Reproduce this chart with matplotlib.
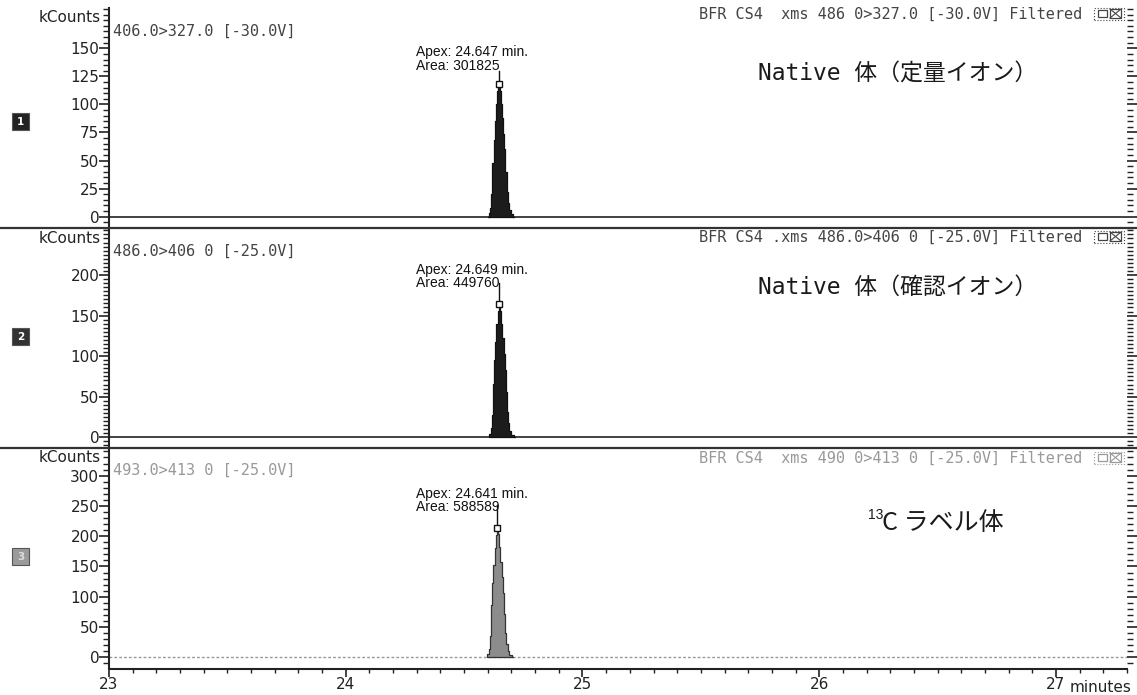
import matplotlib
matplotlib.use("Agg")
import matplotlib.pyplot as plt
from matplotlib.ticker import MultipleLocator
from matplotlib.lines import Line2D
from matplotlib.patches import Rectangle

# ---------------- data ----------------
x_range = [23.0, 27.30]
baseline_t = [23.0, 27.30]
baseline_v = [0.0, 0.0]

peak1_t = [24.602, 24.607, 24.612, 24.617, 24.622, 24.627, 24.632, 24.637, 24.642, 24.647,
           24.652, 24.657, 24.662, 24.667, 24.672, 24.677, 24.682, 24.687, 24.692, 24.702,
           24.712]
peak1_v = [0, 3, 8, 20, 48, 68, 85, 100, 112, 118, 112, 100, 88, 74, 60, 40, 22, 12, 6,
           2, 0]

peak2_t = [24.604, 24.609, 24.614, 24.619, 24.624, 24.629, 24.634, 24.639, 24.644, 24.649,
           24.654, 24.659, 24.664, 24.669, 24.674, 24.679, 24.684, 24.689, 24.694, 24.704,
           24.714]
peak2_v = [0, 4, 11, 28, 66, 95, 118, 140, 156, 164, 156, 140, 122, 103, 83, 56, 31, 17, 8,
           3, 0]

peak3_t = [24.596, 24.601, 24.606, 24.611, 24.616, 24.621, 24.626, 24.631, 24.636, 24.641,
           24.646, 24.651, 24.656, 24.661, 24.666, 24.671, 24.676, 24.681, 24.686, 24.696,
           24.706]
peak3_v = [0, 5, 14, 36, 86, 123, 153, 181, 202, 213, 203, 182, 158, 133, 107, 72, 40, 22,
           10, 4, 0]

apex_times = [24.647, 24.649, 24.641]
apex_heights = [118, 164, 213]
areas = [301825, 449760, 588589]
ylims = [(-10.1, 185.9), (-13.2, 257.9), (-19.3, 345.6)]
yticks = [[0, 25, 50, 75, 100, 125, 150],
          [0, 50, 100, 150, 200],
          [0, 50, 100, 150, 200, 250, 300]]
yminor = [5, 5, 10]
left_labels = ["406.0>327.0 [-30.0V]", "486.0>406 0 [-25.0V]", "493.0>413 0 [-25.0V]"]
header_labels = ["BFR CS4  xms 486 0>327.0 [-30.0V] Filtered",
                 "BFR CS4 .xms 486.0>406 0 [-25.0V] Filtered",
                 "BFR CS4  xms 490 0>413 0 [-25.0V] Filtered"]
jp_labels = ["Native 体（定量イオン）", "Native 体（確認イオン）"]
label13_sup = "13"
label13_main = "C ラベル体"
panel_nums = ["1", "2", "3"]
x_ticks = [23, 24, 25, 26, 27]

# ---------------- layout ----------------
W, H = 1137, 695
fig = plt.figure(figsize=(W / 100, H / 100), dpi=100)
plt.rcParams['font.family'] = ['DejaVu Sans']

def fx(px):
    return px / W

def fy(py):
    return 1 - py / H

panel_px = [(8, 228), (228, 448), (448, 669)]
left_px, right_px = 109, 1127
peaks = [(peak1_t, peak1_v), (peak2_t, peak2_v), (peak3_t, peak3_v)]
fills = ["#1c1c1c", "#1c1c1c", "#8c8c8c"]
edges = ["#111111", "#111111", "#333333"]
apex_line_top = [130, 190, 251]
apex_text_y = [(146.7, 134.0), (206.0, 190.0), (270.0, 248.0)]
jp_pos = [(758, 74), (758, 287)]
header_y = [14, 237, 458]
left_y = [31, 251, 470]
num_y = [122, 337, 557]
num_face = ["#222222", "#333333", "#9a9a9a"]
num_text = ["white", "white", "#dddddd"]
header_col = ["#444444", "#444444", "#999999"]
mono = ["DejaVu Sans Mono"]
cjk = ["Noto Sans CJK JP", "DejaVu Sans"]

axes = []
for i in range(3):
    top, bot = panel_px[i]
    ax = fig.add_axes([fx(left_px), fy(bot), fx(right_px - left_px), (bot - top) / H])
    axes.append(ax)
    t, v = peaks[i]
    # baseline
    if i < 2:
        ax.plot(baseline_t, baseline_v, color="#222222", lw=1.2, zorder=2)
    else:
        ax.plot(baseline_t, baseline_v, color="#999999", lw=1.0, ls=(0, (2, 1.5)), zorder=2)
    ax.fill_between(t, 0, v, step="mid", facecolor=fills[i], edgecolor=edges[i],
                    lw=0.9, zorder=3)
    # apex marker and line
    ax.plot([apex_times[i], apex_times[i]], [apex_heights[i], apex_line_top[i]],
            color="#111111", lw=1.0, zorder=4)
    ax.plot([apex_times[i]], [apex_heights[i]], marker="s", ms=5, mfc="white",
            mec="#111111", mew=1.0, zorder=5)
    ax.text(24.295, apex_text_y[i][0], f"Apex: {apex_times[i]:.3f} min.",
            fontsize=10, va="center", ha="left", color="#111111",
            family=["Liberation Sans"])
    ax.text(24.295, apex_text_y[i][1], f"Area: {areas[i]}",
            fontsize=10, va="center", ha="left", color="#111111",
            family=["Liberation Sans"])

    # spines / ticks
    ax.set_xlim(*x_range)
    ax.spines["top"].set_visible(False)
    ax.spines["right"].set_visible(False)
    ax.spines["left"].set_linewidth(1.5)
    ax.spines["left"].set_color("#222222")
    ax.set_yticks(yticks[i])
    ax.yaxis.set_minor_locator(MultipleLocator(yminor[i]))
    ax.set_ylim(*ylims[i])
    ax.tick_params(axis="y", which="major", direction="out", length=7, width=1.2,
                   labelsize=11, pad=0, right=True, colors="#222222")
    ax.tick_params(axis="y", which="minor", direction="out", length=4, width=1.0,
                   right=True, colors="#222222")
    if i < 2:
        ax.spines["bottom"].set_visible(False)
        ax.tick_params(axis="x", which="both", bottom=False, labelbottom=False)
    else:
        ax.spines["bottom"].set_linewidth(1.5)
        ax.spines["bottom"].set_color("#222222")
        ax.set_xticks(x_ticks)
        ax.xaxis.set_minor_locator(MultipleLocator(0.1))
        ax.tick_params(axis="x", which="major", direction="out", length=6, width=1.2,
                       labelsize=11, pad=0, colors="#222222")
        ax.tick_params(axis="x", which="minor", direction="out", length=3, width=1.0,
                       colors="#222222")

    # labels
    fig.text(fx(101), fy(top + 10), "kCounts", fontsize=11, ha="right", va="center",
             color="#222222")
    fig.text(fx(113), fy(left_y[i]), left_labels[i], fontsize=11, ha="left",
             va="center", color=header_col[i], family=mono)
    fig.text(fx(1082), fy(header_y[i]), header_labels[i], fontsize=11, ha="right",
             va="center", color=header_col[i], family=mono)
    if i < 2:
        fig.text(fx(jp_pos[i][0]), fy(jp_pos[i][1]), jp_labels[i], fontsize=16.5,
                 ha="left", va="center", color="#1a1a1a",
                 family=["DejaVu Sans Mono", "Noto Sans CJK JP"])
    # panel number box
    fig.patches.append(Rectangle((fx(12), fy(num_y[i] + 8)), fx(17), 17 / H,
                                 transform=fig.transFigure, facecolor=num_face[i],
                                 edgecolor="#555555", lw=0.8))
    fig.text(fx(20.5), fy(num_y[i]), panel_nums[i], fontsize=7.5, ha="center",
             va="center", color=num_text[i], fontweight="bold")
    # small icon boxes top-right
    fig.patches.append(Rectangle((fx(1094), fy(header_y[i] + 6)), fx(30), 12 / H,
                                 transform=fig.transFigure, facecolor="none",
                                 edgecolor=header_col[i], lw=0.8, ls=":"))
    fig.patches.append(Rectangle((fx(1098), fy(header_y[i] + 3)), fx(9), 7 / H,
                                 transform=fig.transFigure, facecolor="none",
                                 edgecolor=header_col[i], lw=0.9))
    fig.patches.append(Rectangle((fx(1110), fy(header_y[i] + 4)), fx(11), 9 / H,
                                 transform=fig.transFigure, facecolor="none",
                                 edgecolor=header_col[i], lw=0.9))
    fig.lines.append(Line2D([fx(1110), fx(1121)], [fy(header_y[i] + 4), fy(header_y[i] - 5)],
                            transform=fig.transFigure, color=header_col[i], lw=0.8))
    fig.lines.append(Line2D([fx(1110), fx(1121)], [fy(header_y[i] - 5), fy(header_y[i] + 4)],
                            transform=fig.transFigure, color=header_col[i], lw=0.8))

# 13C label: small raised "13" then main text
fig.text(fx(868), fy(515), label13_sup, fontsize=10, ha="left", va="center",
         color="#1a1a1a", family=["Liberation Sans"])
fig.text(fx(882), fy(523), label13_main, fontsize=18, ha="left", va="center",
         color="#1a1a1a", family=cjk)

# full-width separator lines
for py in [228, 448]:
    fig.lines.append(Line2D([0, 1], [fy(py), fy(py)], transform=fig.transFigure,
                            color="#333333", lw=1.6))

fig.text(fx(1101), fy(688), "minutes", fontsize=11, ha="center", va="center",
         color="#222222")

fig.savefig("out.png", dpi=100)
